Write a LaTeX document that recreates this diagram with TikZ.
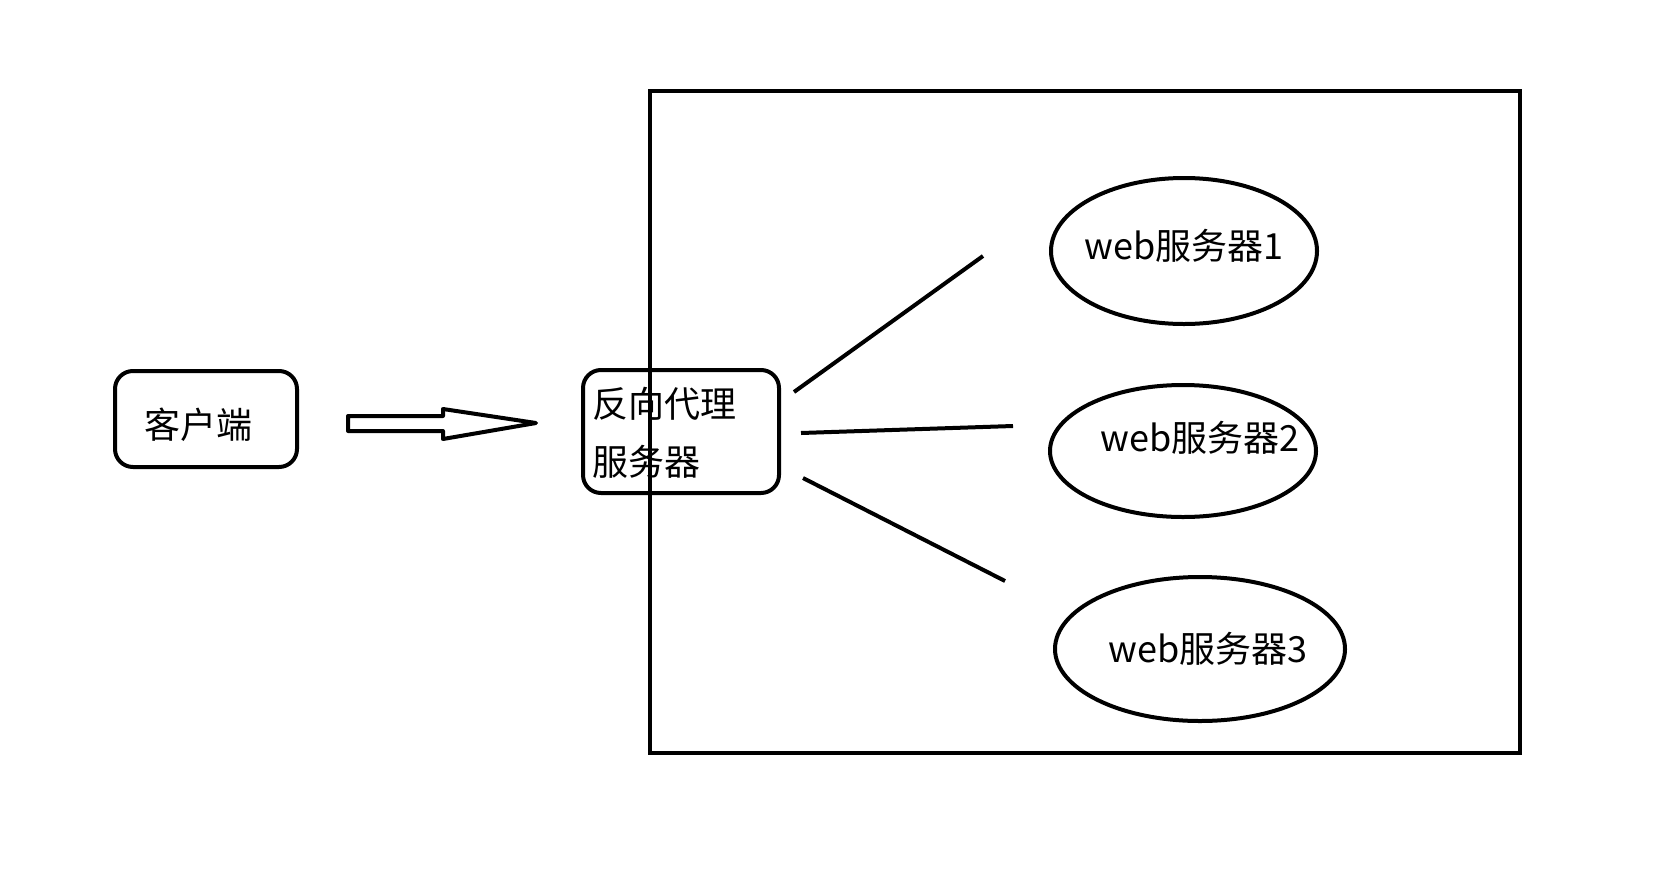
\documentclass[tikz,border=0pt]{standalone}
\usepackage{fontspec}
\setmainfont{Noto Sans CJK SC}
\begin{document}
\begin{tikzpicture}[x=0.5pt,y=-0.5pt,
  line width=2pt,
  lbl/.style={font=\fontsize{18}{21}\selectfont, inner sep=0pt},
  rbox/.style={draw, rounded corners=9pt},
  srv/.style={draw, ellipse}]
\useasboundingbox (0,0) rectangle (1663,894);
\draw (650,91) rectangle (1520,753);
% client
\draw[rbox] (115,371) rectangle (297,467);
\node[lbl] (client) at (198,425) {客户端};
% hollow arrow
\coordinate (a0) at (348,416);
\coordinate (atip) at (536,423);
\draw[line width=2pt, line join=round] (a0) -- (443,416) -- (443,409) -- (atip) -- (443,439) -- (443,431) -- (348,431) -- cycle;
% proxy
\draw[rbox] (583,370) rectangle (779,493);
\node[lbl, anchor=west] (p1) at (590,404) {反向代理};
\node[lbl, anchor=west] (p2) at (590,462) {服务器};
% servers
\draw (1184,251) ellipse [x radius=133, y radius=73];
\draw (1183,451) ellipse [x radius=133, y radius=66];
\draw (1200,649) ellipse [x radius=145, y radius=72];
\node[lbl] (s1) at (1184,246) {web服务器1};
\node[lbl] (s2) at (1200,438) {web服务器2};
\node[lbl] (s3) at (1208,649) {web服务器3};
% connectors
\coordinate (l1a) at (794,392); \coordinate (l1b) at (983,256);
\coordinate (l2a) at (801,433); \coordinate (l2b) at (1013,426);
\coordinate (l3a) at (803,478); \coordinate (l3b) at (1005,581);
\draw (l1a) -- (l1b);
\draw (l2a) -- (l2b);
\draw (l3a) -- (l3b);
\end{tikzpicture}
\end{document}
